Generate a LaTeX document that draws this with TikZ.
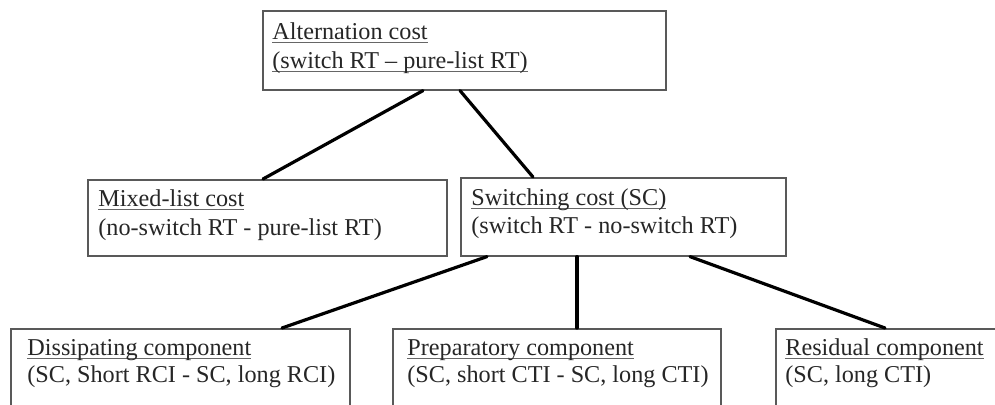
\documentclass[tikz,border=0pt]{standalone}
\usepackage{fontspec}
\setmainfont{Liberation Serif}
\usetikzlibrary{calc}
% underline set close to the baseline
\newcommand\uln[1]{\setbox0\hbox{#1}\rlap{\color{black!60}\rule[-2.1pt]{\wd0}{0.7pt}}\box0}
\begin{document}
\begin{tikzpicture}[x=0.5pt,y=-0.5pt,
  box/.style 2 args={draw=black!65, line width=0.8pt, rectangle, inner sep=0pt,
    anchor=north west, minimum width=#1*0.5pt, minimum height=#2*0.5pt},
  txt/.style={anchor=base west, inner sep=0pt, font=\fontsize{12.1}{14.5}\selectfont, text=black!85},
  link/.style={line width=1.6pt, black, line cap=round}]
\useasboundingbox (0,0) rectangle (995,404);
\clip (0,0) rectangle (995,404);

% boxes
\node[box={403}{79}] (alt) at (262,10) {};
\node[box={359}{76}] (mixed) at (87,179) {};
\node[box={325}{78}] (switch) at (460,177) {};
\node[box={339}{120}] (diss) at (10,328) {};
\node[box={328}{120}] (prep) at (392,328) {};
\node[box={300}{120}] (resid) at (775,328) {};

% texts
\node[txt] (altA) at (272,39) {\uln{Alternation cost}};
\node[txt] (altB) at (272,68) {\uln{(switch RT -- pure-list RT)}};
\node[txt] (mixedA) at (98,206) {\uln{Mixed-list cost}};
\node[txt] (mixedB) at (98,235) {(no-switch RT - pure-list RT)};
\node[txt] (switchA) at (471,205) {\uln{Switching cost (SC)}};
\node[txt] (switchB) at (471,233) {(switch RT - no-switch RT)};
\node[txt] (dissA) at (27,355) {\uln{Dissipating component}};
\node[txt] (dissB) at (27,382) {(SC, Short RCI - SC, long RCI)};
\node[txt] (prepA) at (407,355) {\uln{Preparatory component}};
\node[txt] (prepB) at (407,382) {(SC, short CTI - SC, long CTI)};
\node[txt] (residA) at (785,355) {\uln{Residual component}};
\node[txt] (residB) at (785,382) {(SC, long CTI)};

% connectors
\draw[link] ($(alt.south west)+(161,0)$) -- ($(mixed.north west)+(176,0)$);
\draw[link] ($(alt.south west)+(198,0)$) -- ($(switch.north west)+(73,0)$);
\draw[link] ($(switch.south west)+(27,0)$) -- ($(diss.north west)+(272,0)$);
\draw[link] ($(switch.south west)+(117,0)$) -- ($(prep.north west)+(185,0)$);
\draw[link] ($(switch.south west)+(230,0)$) -- ($(resid.north west)+(110,0)$);
\end{tikzpicture}
\end{document}
